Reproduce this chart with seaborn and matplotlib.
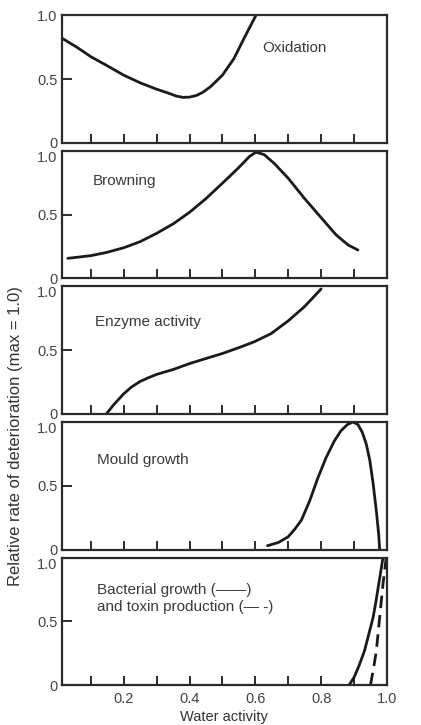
import matplotlib
matplotlib.use("Agg")
import matplotlib.pyplot as plt
import seaborn as sns
import pandas as pd

# Water activity vs. relative deterioration rate curves
ox_aw = [0.012, 0.057, 0.1, 0.149, 0.2, 0.25, 0.3, 0.335, 0.36, 0.38, 0.4, 0.42, 0.44,
         0.464, 0.5, 0.535, 0.566, 0.602]
ox_rate = [0.82, 0.75, 0.675, 0.605, 0.53, 0.47, 0.42, 0.39, 0.366, 0.356, 0.358, 0.37,
           0.395, 0.44, 0.53, 0.66, 0.82, 1.0]

br_aw = [0.03, 0.1, 0.149, 0.2, 0.25, 0.3, 0.352, 0.4, 0.449, 0.5, 0.548, 0.582, 0.602,
         0.627, 0.658, 0.7, 0.749, 0.8, 0.846, 0.882, 0.912]
br_rate = [0.157, 0.178, 0.204, 0.24, 0.288, 0.353, 0.43, 0.518, 0.623, 0.746, 0.864,
           0.955, 0.99, 0.97, 0.90, 0.785, 0.628, 0.476, 0.34, 0.262, 0.222]

en_aw = [0.147, 0.169, 0.2, 0.223, 0.25, 0.275, 0.3, 0.352, 0.4, 0.449, 0.5, 0.548,
         0.597, 0.648, 0.7, 0.749, 0.795, 0.8]
en_rate = [0.0, 0.071, 0.158, 0.21, 0.255, 0.284, 0.31, 0.35, 0.395, 0.434, 0.474,
           0.518, 0.566, 0.63, 0.73, 0.84, 0.966, 0.98]

mo_aw = [0.637, 0.67, 0.70, 0.72, 0.74, 0.765, 0.79, 0.815, 0.84, 0.86, 0.88, 0.897,
         0.912, 0.925, 0.937, 0.948, 0.958, 0.968, 0.975, 0.978]
mo_rate = [0.03, 0.055, 0.10, 0.16, 0.23, 0.38, 0.56, 0.72, 0.85, 0.93, 0.98, 1.0,
           0.98, 0.92, 0.83, 0.70, 0.52, 0.30, 0.12, 0.0]

ba_aw = [0.885, 0.90, 0.915, 0.932, 0.945, 0.958, 0.967, 0.975, 0.982, 0.988]
ba_rate = [0.0, 0.06, 0.15, 0.27, 0.40, 0.53, 0.66, 0.79, 0.90, 1.0]

tx_aw = [0.95, 0.96, 0.968, 0.978, 0.988, 0.998]
tx_rate = [0.0, 0.14, 0.27, 0.53, 0.79, 1.0]

panel_titles = ["Oxidation", "Browning", "Enzyme activity", "Mould growth",
                "Bacterial growth (\u2014\u2014)\nand toxin production (\u2014 -)"]
x_ticks = [0.1, 0.2, 0.3, 0.4, 0.5, 0.6, 0.7, 0.8, 0.9, 1.0]
x_tick_labels = ["", "0.2", "", "0.4", "", "0.6", "", "0.8", "", "1.0"]
y_ticks = [0, 0.5, 1.0]
y_tick_labels = ["0", "0.5", "1.0"]

sns.set_theme(style="white")
plt.rcParams["font.family"] = ["Liberation Sans", "DejaVu Sans"]
ink = "#2b2b2b"
text_ink = "#3a3a3a"

fig, axes = plt.subplots(5, 1, figsize=(4.21, 7.25), dpi=100, sharex=True)
fig.subplots_adjust(left=0.147, right=0.919, top=0.979, bottom=0.055, hspace=0.063)

curves = [
    [(ox_aw, ox_rate, "-")],
    [(br_aw, br_rate, "-")],
    [(en_aw, en_rate, "-")],
    [(mo_aw, mo_rate, "-")],
    [(ba_aw, ba_rate, "-"), (tx_aw, tx_rate, "--")],
]
label_pos = [(0.62, 0.74), (0.107, 0.76), (0.113, 0.72), (0.118, 0.70), (0.118, 0.68)]

for i, (ax, series, title, (tx, ty)) in enumerate(zip(axes, curves, panel_titles, label_pos)):
    for xs, ys, ls in series:
        df = pd.DataFrame({"aw": xs, "rate": ys})
        sns.lineplot(data=df, x="aw", y="rate", ax=ax, color="#1a1a1a",
                     linewidth=2.0, sort=False, estimator=None)
        ln = ax.lines[-1]
        ln.set_solid_joinstyle("round")
        ln.set_solid_capstyle("round")
        if ls == "--":
            ln.set_dashes([4.5, 2.5])
    ax.set_xlim(0.012, 1.0)
    ax.set_ylim(0, 1.0)
    ax.set_xlabel("")
    ax.set_ylabel("")
    ax.set_xticks(x_ticks)
    ax.set_xticklabels(x_tick_labels)
    ax.set_yticks(y_ticks)
    ax.set_yticklabels(y_tick_labels)
    ax.tick_params(axis="x", which="both", bottom=True, top=False, direction="in",
                   length=6.5, width=1.4, color=ink, labelsize=10.5,
                   labelcolor="#444444", pad=5)
    ax.tick_params(axis="y", which="both", left=True, right=False, direction="in",
                   length=7, width=1.4, color=ink, labelsize=10.5,
                   labelcolor="#444444", pad=3)
    if i > 0:
        ax.get_yticklabels()[2].set_va("top")
    for sp in ax.spines.values():
        sp.set_color(ink)
        sp.set_linewidth(1.6)
    ax.text(tx, ty, title, ha="left", va="center", fontsize=11, color=text_ink,
            linespacing=1.3)

axes[-1].set_xlabel("Water activity", fontsize=10.5, color="#333333", labelpad=3)
fig.text(16 / 421, 1 - 436 / 725, "Relative rate of deterioration (max = 1.0)",
         rotation=90, ha="center", va="center", fontsize=12, color="#333333")

fig.savefig("out.png", dpi=100, facecolor="white")
